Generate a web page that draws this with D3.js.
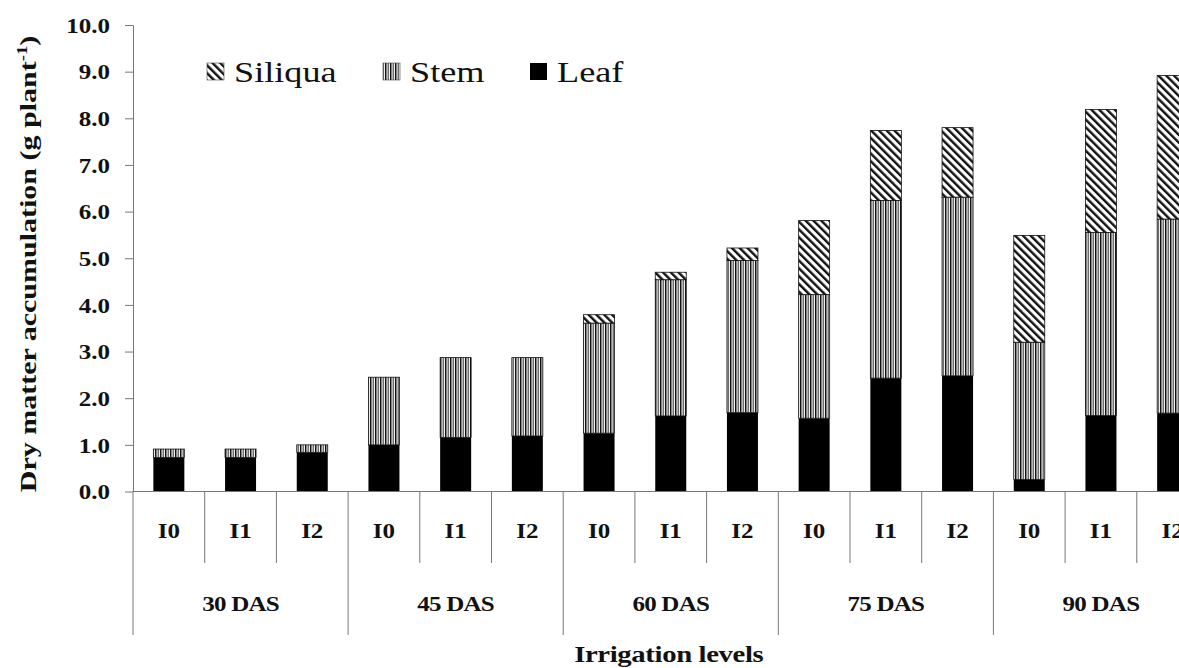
<!DOCTYPE html>
<html>
<head>
<meta charset="utf-8">
<script src="https://cdn.jsdelivr.net/npm/d3@7"></script>
<style>
  body { margin: 0; background: #fff; }
  svg { display: block; }
  text { font-family: "Liberation Serif", "Times New Roman", serif; fill: #111; }
</style>
</head>
<body>
<svg id="chart"></svg>
<script>
// data (g plant-1)
const stages = ["30 DAS", "45 DAS", "60 DAS", "75 DAS", "90 DAS"];
const levels = ["I0", "I1", "I2"];
const leaf    = [0.73, 0.73, 0.84, 1.00, 1.16, 1.19, 1.25, 1.62, 1.69, 1.57, 2.43, 2.48, 0.26, 1.63, 1.68];
const stem    = [0.18, 0.18, 0.16, 1.45, 1.71, 1.68, 2.36, 2.92, 3.26, 2.65, 3.81, 3.83, 2.94, 3.92, 4.16];
const siliqua = [0.00, 0.00, 0.00, 0.00, 0.00, 0.00, 0.18, 0.16, 0.27, 1.59, 1.50, 1.49, 2.29, 2.64, 3.08];
const yTicks  = [0, 1, 2, 3, 4, 5, 6, 7, 8, 9, 10];
const legendItems = ["Siliqua", "Stem", "Leaf"];

const W = 1179, H = 668;
const SX = 1.25;            // the original font is wider than Times
const left = 133, step = 71.7, base = 491.5, topY = 25;

const rows = [];
stages.forEach((s, gi) => levels.forEach((l, li) => {
  const i = gi * 3 + li;
  rows.push({ id: i, stage: s, level: l, leaf: leaf[i], stem: stem[i], siliqua: siliqua[i] });
}));

const svg = d3.select("#chart").attr("width", W).attr("height", H);
const defs = svg.append("defs");

// stem: vertical stripes
const sp = defs.append("pattern").attr("id", "stemPat")
  .attr("patternUnits", "userSpaceOnUse").attr("width", 5).attr("height", 5);
sp.append("rect").attr("width", 5).attr("height", 5).attr("fill", "#fff");
sp.append("rect").attr("x", 0).attr("width", 1.5).attr("height", 5).attr("fill", "#111");
sp.append("rect").attr("x", 2.5).attr("width", 1.6).attr("height", 5).attr("fill", "#6e6e6e");

// siliqua: "\" diagonal hatch
const hp = defs.append("pattern").attr("id", "silPat")
  .attr("patternUnits", "userSpaceOnUse").attr("width", 5.5).attr("height", 5.5)
  .attr("patternTransform", "rotate(-45)");
hp.append("rect").attr("width", 5.5).attr("height", 5.5).attr("fill", "#fff");
hp.append("rect").attr("width", 2.4).attr("height", 5.5).attr("fill", "#111");

const fills = { leaf: "#000", stem: "url(#stemPat)", siliqua: "url(#silPat)" };

// scales
const pad = 1 - 31 / step;
const x = d3.scaleBand().domain(rows.map(d => d.id))
  .range([left, left + step * rows.length]).paddingInner(pad).paddingOuter(pad / 2);
const xg = d3.scaleBand().domain(stages).range([left, left + step * rows.length]);
const y = d3.scaleLinear().domain([0, 10]).range([base, topY]);

// bars
const series = d3.stack().keys(["leaf", "stem", "siliqua"])(rows);
svg.append("g").selectAll("g").data(series).join("g")
  .attr("fill", d => fills[d.key])
  .attr("stroke", d => d.key === "leaf" ? "none" : "#111")
  .attr("stroke-width", 0.8)
  .selectAll("rect").data(d => d.filter(v => v[1] - v[0] > 0)).join("rect")
  .attr("x", d => x(d.data.id))
  .attr("width", x.bandwidth())
  .attr("y", d => y(d[1]))
  .attr("height", d => y(d[0]) - y(d[1]));

// y axis
const yAxis = svg.append("g").attr("transform", `translate(${left},0)`)
  .call(d3.axisLeft(y).tickValues(yTicks).tickFormat(d3.format(".1f")).tickSize(8).tickSizeOuter(0));
yAxis.select(".domain").attr("stroke", "#777");
yAxis.selectAll(".tick line").attr("stroke", "#777");
yAxis.selectAll(".tick text")
  .attr("x", 0).attr("dy", "0.36em")
  .attr("transform", `translate(-23,0) scale(${SX},1)`)
  .attr("font-size", 20).attr("font-weight", "bold")
  .attr("font-family", "'Liberation Serif', serif").attr("fill", "#111");

// x axis: baseline and separators
const xa = svg.append("g").attr("stroke", "#777");
const [x0, x1] = x.range();
xa.append("line").attr("x1", x0).attr("x2", x1).attr("y1", base).attr("y2", base);
const gapHalf = (x.step() - x.bandwidth()) / 2;
xa.selectAll(".sep").data(rows.filter(d => d.id % 3 !== 0)).join("line")
  .attr("x1", d => x(d.id) - gapHalf).attr("x2", d => x(d.id) - gapHalf)
  .attr("y1", base).attr("y2", 563);
xa.selectAll(".gsep").data(stages.concat(["end"])).join("line")
  .attr("x1", d => d === "end" ? x1 : xg(d))
  .attr("x2", d => d === "end" ? x1 : xg(d))
  .attr("y1", base).attr("y2", 635);

function stretched(g, px, py, str, size, weight, anchor) {
  return g.append("text")
    .attr("transform", `translate(${px},${py}) scale(${SX},1)`)
    .attr("text-anchor", anchor || "middle")
    .attr("font-size", size).attr("font-weight", weight || "normal")
    .text(str);
}

const labels = svg.append("g");
rows.forEach(d => stretched(labels, x(d.id) + x.bandwidth() / 2, 538, d.level, 20, "bold"));
stages.forEach(s => stretched(labels, xg(s) + xg.bandwidth() / 2, 611, s, 20, "bold").attr("letter-spacing", -0.6));
stretched(labels, (x0 + x1) / 2 - 2, 662, "Irrigation levels", 23, "bold").attr("letter-spacing", -0.3);

// y title
const yt = svg.append("text")
  .attr("transform", `translate(36,264) rotate(-90) scale(${SX},1)`)
  .attr("text-anchor", "middle").attr("font-size", 24).attr("font-weight", "bold");
yt.append("tspan").text("Dry matter accumulation (g plant");
yt.append("tspan").attr("font-size", 15).attr("dy", -9).text("-1");
yt.append("tspan").attr("dy", 9).text(")");

// legend
const legX = [207, 383, 530];
const leg = svg.append("g");
legendItems.forEach((name, i) => {
  const key = name.toLowerCase();
  leg.append("rect").attr("x", legX[i]).attr("y", 63).attr("width", 17).attr("height", 17)
    .attr("fill", fills[key]).attr("stroke", key === "leaf" ? "none" : "#444").attr("stroke-width", 0.6);
  stretched(leg, legX[i] + 27, 82, name, 29, "normal", "start");
});
</script>
</body>
</html>
